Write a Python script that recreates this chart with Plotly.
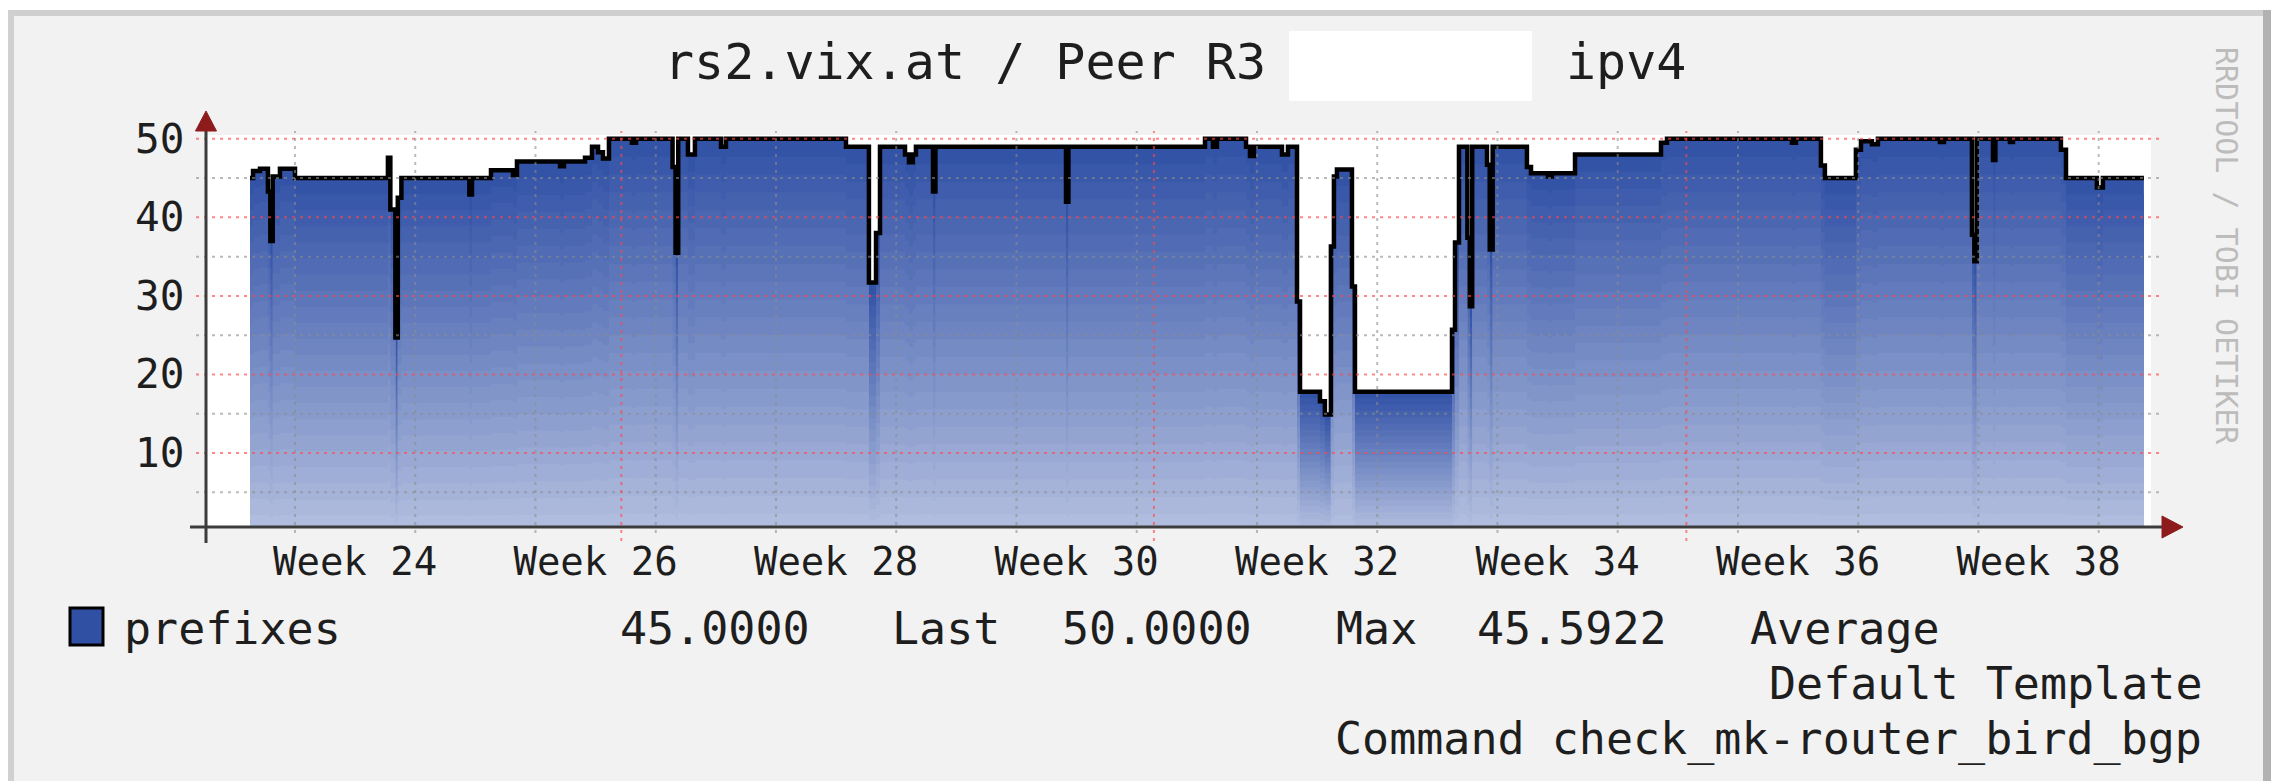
import plotly.graph_objects as go

# ---------------- data ----------------
# sample time in ISO-week units (24.0 = start of Week 24) and the prefix count from that time on
sample_week = [
    23.626, 23.651, 23.709, 23.775, 23.795, 23.815, 23.875, 24.000,
    24.773, 24.793, 24.835, 24.855, 24.885, 25.450, 25.472, 25.630,
    25.813, 25.846, 26.204, 26.237, 26.412, 26.470, 26.520, 26.561,
    26.611, 26.802, 26.836, 27.140, 27.165, 27.187, 27.268, 27.326,
    27.543, 27.584, 28.582, 28.773, 28.832, 28.865, 29.073, 29.106,
    29.139, 29.164, 29.306, 29.326, 30.412, 30.432, 31.568, 31.634,
    31.667, 31.909, 31.942, 31.975, 32.208, 32.258, 32.333, 32.358,
    32.524, 32.565, 32.615, 32.640, 32.665, 32.790, 32.815, 33.622,
    33.647, 33.680, 33.750, 33.770, 33.790, 33.913, 33.936, 33.960,
    34.245, 34.279, 34.420, 34.453, 34.645, 35.360, 35.410, 36.449,
    36.482, 36.690, 36.723, 36.981, 37.023, 37.114, 37.164, 37.680,
    37.713, 37.946, 37.966, 37.986, 38.121, 38.141, 38.262, 38.287,
    38.686, 38.728, 38.985, 39.035,
]
prefixes = [
    45.0, 45.9, 46.2, 43.3, 37.0, 45.2, 46.2, 45.0,
    47.6, 41.0, 24.7, 42.5, 45.0, 42.9, 45.0, 46.0,
    45.4, 47.1, 46.5, 47.1, 47.6, 49.0, 48.3, 47.5,
    50.0, 49.5, 50.0, 46.4, 35.5, 50.0, 48.0, 50.0,
    49.0, 50.0, 49.0, 31.7, 38.0, 49.0, 48.0, 47.0,
    48.0, 49.0, 43.3, 49.0, 42.0, 49.0, 50.0, 49.0,
    50.0, 49.0, 47.8, 49.0, 48.0, 49.0, 29.3, 17.8,
    16.6, 14.9, 36.3, 45.2, 46.1, 31.2, 17.8, 25.7,
    36.8, 49.0, 37.4, 28.7, 49.0, 46.7, 35.9, 49.0,
    46.4, 45.6, 45.2, 45.6, 48.0, 49.5, 50.0, 49.5,
    50.0, 46.6, 45.0, 48.6, 49.7, 49.3, 50.0, 49.6,
    50.0, 37.8, 34.4, 50.0, 47.3, 50.0, 49.6, 50.0,
    48.6, 45.0, 43.8, 45.0,
]
end_week = 39.376

label_week = [24, 26, 28, 30, 32, 34, 36, 38]
label_pos = [24.5, 26.5, 28.5, 30.5, 32.5, 34.5, 36.5, 38.5]
week_start = [24, 25, 26, 27, 28, 29, 30, 31, 32, 33, 34, 35, 36, 37, 38, 39]
month_start_week = [26.714, 31.143, 35.571]
y_major = [10, 20, 30, 40, 50]
y_minor = [5, 15, 25, 35, 45]

stat_last = 45.0
stat_max = 50.0
stat_avg = 45.5922

title_left = "rs2.vix.at / Peer R3"
title_right = "ipv4"
series_name = "prefixes"
footer_lines = ["Default Template", "Command check_mk-router_bird_bgp"]
watermark = "RRDTOOL / TOBI OETIKER"

# ---------------- layout geometry (pixels) ----------------
IMG_W, IMG_H = 2271, 781
PL, PR, PT, PB = 206, 2151, 135, 527
X_RANGE = [23.260, 39.435]
Y_RANGE = [0.59, 50.48]
FONT = "DejaVu Sans Mono"


def fx(x):
    return (x - PL) / (PR - PL)


def fy(y):
    return (PB - y) / (PB - PT)


fig = go.Figure()

xs = sample_week + [end_week]
ys = prefixes + [prefixes[-1]]

# gradient fill: each band is a fraction of the value (like the PNP gradient);
# drawn tallest first, each later (lighter) one overlapping from zero, so no seams
N = 22
c_top = (48, 80, 165)
c_bot = (180, 192, 224)
for k in range(N, 0, -1):
    t = (k - 0.5) / N
    col = tuple(round(c_bot[i] + (c_top[i] - c_bot[i]) * t) for i in range(3))
    fig.add_trace(go.Scatter(
        x=xs, y=[v * k / N for v in ys], mode="lines",
        line=dict(width=0, shape="hv"),
        fill="tozeroy",
        fillcolor="rgb(%d,%d,%d)" % col,
        hoverinfo="skip", showlegend=False))

fig.add_trace(go.Scatter(
    x=xs, y=ys, mode="lines",
    line=dict(color="black", width=4.5, shape="hv"),
    hoverinfo="skip", showlegend=False))

shapes = []
GREY_GRID = "rgba(140,140,140,0.6)"
RED_GRID = "rgba(255,70,70,0.65)"
DOTS = "3px,5px"

for v in y_minor:
    shapes.append(dict(type="line", xref="paper", yref="y", x0=fx(196), x1=fx(2160), y0=v, y1=v,
                       line=dict(color=GREY_GRID, width=2, dash=DOTS), layer="above"))
for v in y_major:
    shapes.append(dict(type="line", xref="paper", yref="y", x0=fx(196), x1=fx(2162), y0=v, y1=v,
                       line=dict(color=RED_GRID, width=2, dash=DOTS), layer="above"))
for w in week_start:
    shapes.append(dict(type="line", xref="x", yref="paper", x0=w, x1=w, y0=fy(533), y1=fy(131),
                       line=dict(color=GREY_GRID, width=2, dash=DOTS), layer="above"))
for w in month_start_week:
    shapes.append(dict(type="line", xref="x", yref="paper", x0=w, x1=w, y0=fy(541), y1=fy(131),
                       line=dict(color=RED_GRID, width=2, dash=DOTS), layer="above"))

AX = "#3c3c3c"
ARROW = "#8e1b1b"
# axes
shapes.append(dict(type="line", xref="paper", yref="paper", x0=fx(206), x1=fx(206), y0=fy(543), y1=fy(128),
                   line=dict(color=AX, width=3), layer="above"))
shapes.append(dict(type="line", xref="paper", yref="paper", x0=fx(190), x1=fx(2164), y0=fy(527), y1=fy(527),
                   line=dict(color=AX, width=3), layer="above"))
shapes.append(dict(type="path", xref="paper", yref="paper",
                   path="M %f,%f L %f,%f L %f,%f Z" % (fx(206), fy(111), fx(195.5), fy(131), fx(216.5), fy(131)),
                   fillcolor=ARROW, line=dict(color=ARROW, width=1), layer="above"))
shapes.append(dict(type="path", xref="paper", yref="paper",
                   path="M %f,%f L %f,%f L %f,%f Z" % (fx(2183), fy(527), fx(2162), fy(516), fx(2162), fy(538)),
                   fillcolor=ARROW, line=dict(color=ARROW, width=1), layer="above"))

# redaction box in the title
shapes.append(dict(type="rect", xref="paper", yref="paper", x0=fx(1289), x1=fx(1532), y0=fy(101), y1=fy(31),
                   fillcolor="white", line=dict(width=0), layer="above"))
# legend swatch
shapes.append(dict(type="rect", xref="paper", yref="paper", x0=fx(70), x1=fx(103), y0=fy(645), y1=fy(608),
                   fillcolor="#3050a4", line=dict(color="black", width=3), layer="above"))
# outer frame
shapes.append(dict(type="rect", xref="paper", yref="paper", x0=fx(0), x1=fx(IMG_W), y0=fy(0), y1=fy(10),
                   fillcolor="white", line=dict(width=0), layer="above"))
shapes.append(dict(type="rect", xref="paper", yref="paper", x0=fx(0), x1=fx(8), y0=fy(0), y1=fy(IMG_H),
                   fillcolor="white", line=dict(width=0), layer="above"))
shapes.append(dict(type="rect", xref="paper", yref="paper", x0=fx(8), x1=fx(IMG_W), y0=fy(10), y1=fy(16),
                   fillcolor="#cfcfcf", line=dict(width=0), layer="above"))
shapes.append(dict(type="rect", xref="paper", yref="paper", x0=fx(8), x1=fx(14), y0=fy(10), y1=fy(IMG_H),
                   fillcolor="#d0d0d0", line=dict(width=0), layer="above"))
shapes.append(dict(type="rect", xref="paper", yref="paper", x0=fx(2263), x1=fx(IMG_W), y0=fy(10), y1=fy(IMG_H),
                   fillcolor="#b2b2b2", line=dict(width=0), layer="above"))

TXT = "#1e1e1e"
annotations = []


def txt(text, x, y, size, anchor="left", color=TXT, angle=0):
    annotations.append(dict(text=text, xref="paper", yref="paper", x=fx(x), y=fy(y),
                            xanchor=anchor, yanchor="middle", showarrow=False, textangle=angle,
                            font=dict(family=FONT, size=size, color=color)))


txt(title_left, 662, 62, 50)
txt(title_right, 1564, 62, 50)
txt(series_name, 122, 628, 45)
txt("%.4f" % stat_last, 618, 628, 45)
txt("Last", 890, 628, 45)
txt("%.4f" % stat_max, 1060, 628, 45)
txt("Max", 1334, 628, 45)
txt("%.4f" % stat_avg, 1475, 628, 45)
txt("Average", 1748, 628, 45)
txt(footer_lines[0], 2204, 683, 45, anchor="right")
txt(footer_lines[1], 2204, 738, 45, anchor="right")
annotations.append(dict(text=watermark, xref="paper", yref="paper", x=fx(2227), y=fy(246),
                        xanchor="center", yanchor="middle", showarrow=False, textangle=90,
                        font=dict(family=FONT, size=30, color="#bcbcbc")))
# y axis labels
for v in y_major:
    annotations.append(dict(text=str(v), xref="paper", yref="y", x=fx(186), y=v,
                            xanchor="right", yanchor="middle", showarrow=False,
                            font=dict(family=FONT, size=41, color=TXT)))

fig.update_layout(
    width=IMG_W, height=IMG_H,
    margin=dict(l=PL, r=IMG_W - PR, t=PT, b=IMG_H - PB, pad=0),
    paper_bgcolor="#f2f2f2", plot_bgcolor="white",
    showlegend=False,
    shapes=shapes, annotations=annotations,
    xaxis=dict(range=X_RANGE, showgrid=False, zeroline=False, showline=False,
               tickmode="array", tickvals=label_pos, ticktext=["Week %d" % w for w in label_week],
               ticks="", ticklabelstandoff=8,
               tickfont=dict(family=FONT, size=39, color=TXT), fixedrange=True),
    yaxis=dict(range=Y_RANGE, showgrid=False, zeroline=False, showline=False,
               showticklabels=False, ticks="", fixedrange=True),
)

fig.write_html("out.html",
               config={"displayModeBar": False, "staticPlot": True},
               post_script="document.body.style.margin='0';document.body.style.overflow='hidden';")
